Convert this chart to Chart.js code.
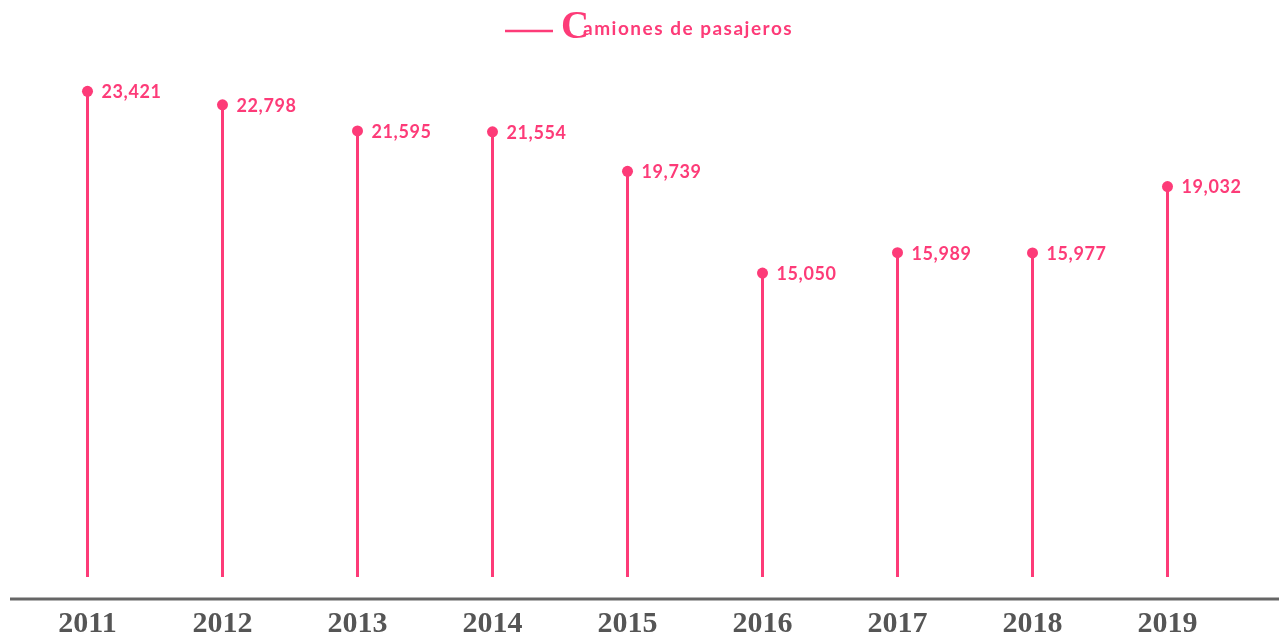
<!DOCTYPE html>
<html>
<head>
<meta charset="utf-8">
<script src="https://cdn.jsdelivr.net/npm/chart.js@4"></script>
<style>
  html, body { margin: 0; background: #fff; }
  #wrap { width: 1279px; height: 634px; }
</style>
</head>
<body>
<div id="wrap"><canvas id="grafica"></canvas></div>
<script>
// Datos de la gráfica
const anios = ['2011', '2012', '2013', '2014', '2015', '2016', '2017', '2018', '2019'];
const camiones = [23421, 22798, 21595, 21554, 19739, 15050, 15989, 15977, 19032];
const nombreSerie = 'Camiones de pasajeros';

const rosa = '#fd3b78';
const gris = '#666666';

// Dibuja los tallos, las etiquetas, la línea del eje y la leyenda
const piruletas = {
    id: 'piruletas',
    beforeDatasetsDraw(chart) {
        const ctx = chart.ctx;
        const meta = chart.getDatasetMeta(0);
        const base = chart.chartArea.bottom - 23;
        ctx.save();
        ctx.strokeStyle = rosa;
        ctx.lineWidth = 3;
        meta.data.forEach(p => {
            ctx.beginPath();
            ctx.moveTo(p.x, p.y);
            ctx.lineTo(p.x, base);
            ctx.stroke();
        });
        ctx.restore();
    },
    afterDatasetsDraw(chart) {
        const ctx = chart.ctx;
        const meta = chart.getDatasetMeta(0);
        ctx.save();
        ctx.fillStyle = rosa;
        ctx.font = 'bold 18px Lato';
        ctx.letterSpacing = '0.6px';
        ctx.textAlign = 'left';
        ctx.textBaseline = 'middle';
        meta.data.forEach((p, i) => {
            ctx.fillText(camiones[i].toLocaleString('en-US'), p.x + 14, p.y + 1);
        });
        ctx.restore();
    },
    afterDraw(chart) {
        const ctx = chart.ctx;
        const y0 = chart.chartArea.bottom - 1;
        ctx.save();
        // línea del eje
        ctx.strokeStyle = gris;
        ctx.lineWidth = 3;
        ctx.beginPath();
        ctx.moveTo(10, y0);
        ctx.lineTo(chart.width, y0);
        ctx.stroke();

        // leyenda
        ctx.strokeStyle = rosa;
        ctx.lineWidth = 2.5;
        ctx.beginPath();
        ctx.moveTo(505, 31);
        ctx.lineTo(553, 31);
        ctx.stroke();
        ctx.fillStyle = rosa;
        ctx.textBaseline = 'alphabetic';
        ctx.textAlign = 'left';
        ctx.font = 'bold 39px "Liberation Serif"';
        ctx.fillText(nombreSerie.charAt(0), 561, 38);
        ctx.font = 'bold 19px Lato';
        ctx.letterSpacing = '1.5px';
        ctx.fillText(nombreSerie.slice(1), 583, 35);
        ctx.restore();
    }
};

new Chart(document.getElementById('grafica'), {
    type: 'line',
    data: {
        labels: anios,
        datasets: [{
            label: nombreSerie,
            data: camiones,
            showLine: false,
            pointRadius: 5.5,
            pointHoverRadius: 5.5,
            pointBackgroundColor: rosa,
            pointBorderColor: rosa,
            pointBorderWidth: 0,
            borderColor: rosa
        }]
    },
    options: {
        responsive: true,
        maintainAspectRatio: false,
        animation: false,
        layout: {
            padding: { top: 57, left: 20, right: 44, bottom: 0 }
        },
        scales: {
            x: {
                offset: true,
                grid: { display: false, drawTicks: false },
                border: { display: false },
                ticks: {
                    color: '#555555',
                    padding: 6,
                    font: { family: '"Liberation Serif"', size: 30, weight: 'bold' }
                },
                afterFit(scale) { scale.height = 34; }
            },
            y: {
                display: false,
                min: 0,
                max: 25000
            }
        },
        plugins: {
            legend: { display: false },
            tooltip: { enabled: false }
        }
    },
    plugins: [piruletas]
});
</script>
</body>
</html>
